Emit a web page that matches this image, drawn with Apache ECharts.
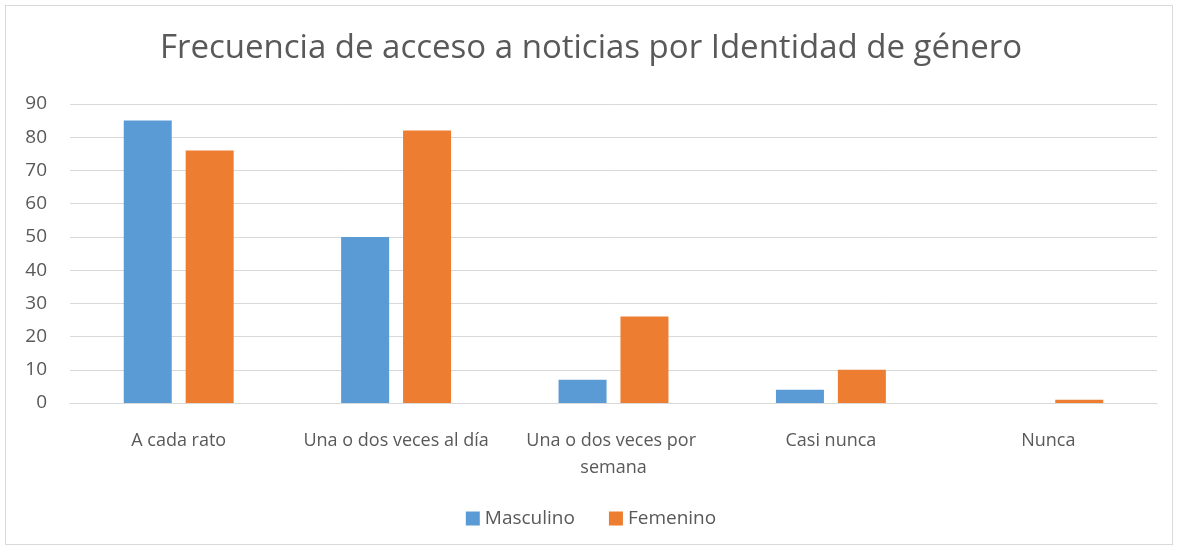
<!DOCTYPE html>
<html>
<head>
<meta charset="utf-8">
<script src="https://cdn.jsdelivr.net/npm/echarts@6/dist/echarts.min.js"></script>
<style>
  html, body { margin: 0; padding: 0; background: #ffffff; }
  #main { width: 1182px; height: 550px; }
  .frame { position: absolute; left: 5px; top: 5px; width: 1166px; height: 538px; border: 1px solid #d9d9d9; pointer-events: none; }
</style>
</head>
<body>
<div id="main"></div>
<div class="frame"></div>
<script>
// categorias y valores
var categories = ['A cada rato', 'Una o dos veces al día', 'Una o dos veces por semana', 'Casi nunca', 'Nunca']
var masculino = [85, 50, 7, 4, 0]
var femenino = [76, 82, 26, 10, 1]

var chart = echarts.init(document.getElementById('main'))
var font = '"Open Sans", "Liberation Sans", sans-serif'
chart.setOption({
  animation: false,
  title: {
    text: 'Frecuencia de acceso a noticias por Identidad de género',
    left: 'center',
    top: 27,
    textStyle: { fontFamily: font, fontSize: 33, fontWeight: 'normal', color: '#595959' }
  },
  legend: {
    bottom: 17,
    itemWidth: 14,
    itemHeight: 14,
    itemGap: 34,
    icon: 'rect',
    textStyle: { fontFamily: font, fontSize: 19, color: '#595959' },
    data: ['Masculino', 'Femenino']
  },
  color: ['#5b9bd5', '#ed7d31'],
  grid: { left: 70, right: 25, top: 104, bottom: 147 },
  xAxis: {
    type: 'category',
    data: categories,
    axisLine: { lineStyle: { color: '#d9d9d9' } },
    axisTick: { show: false },
    axisLabel: {
      interval: 0,
      margin: 24,
      width: 205,
      overflow: 'break',
      lineHeight: 27,
      fontFamily: font,
      fontSize: 18,
      color: '#595959'
    }
  },
  yAxis: {
    type: 'value',
    min: 0,
    max: 90,
    interval: 10,
    axisLine: { show: false },
    axisTick: { show: false },
    axisLabel: { margin: 23, fontFamily: font, fontSize: 19, color: '#595959' },
    splitLine: { lineStyle: { color: '#d9d9d9' } }
  },
  series: [
    { name: 'Masculino', type: 'bar', data: masculino, barWidth: 48, barGap: '29%' },
    { name: 'Femenino', type: 'bar', data: femenino, barWidth: 48, barGap: '29%' }
  ]
})
</script>
</body>
</html>
